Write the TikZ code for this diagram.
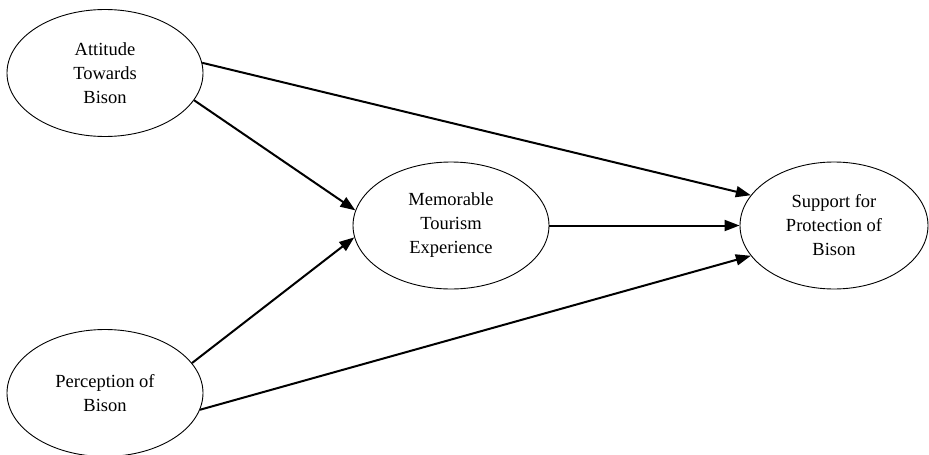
\documentclass[tikz,border=0pt]{standalone}
\usepackage{fontspec}
\setmainfont{Liberation Serif}
\usetikzlibrary{shapes.geometric,arrows.meta}
\begin{document}
\begin{tikzpicture}[x=1pt,y=-1pt,
  construct/.style={ellipse,draw,line width=0.9pt,inner sep=0pt,
    minimum width=196pt,minimum height=127pt,align=center,
    font=\fontsize{18.5}{24}\selectfont},
  path/.style={line width=2pt,-{Triangle[length=15pt,width=11pt]}}]
\useasboundingbox (0,0) rectangle (929,455);
\node[construct] (att) at (105,73) {Attitude\\Towards\\Bison};
\node[construct] (per) at (105,393) {Perception of\\Bison};
\node[construct] (mte) at (451,225.5) {Memorable\\Tourism\\Experience};
\node[construct,minimum width=188pt] (sup) at (834,225.5) {Support for\\Protection of\\Bison};
\draw[path] (att.6) -- (sup.160);
\draw[path] (att.-17) -- (mte.171);
\draw[path] (per.19) -- (mte.187);
\draw[path] (per.-10) -- (sup.200);
\draw[path] (mte.east) -- (sup.west);
\end{tikzpicture}
\end{document}
